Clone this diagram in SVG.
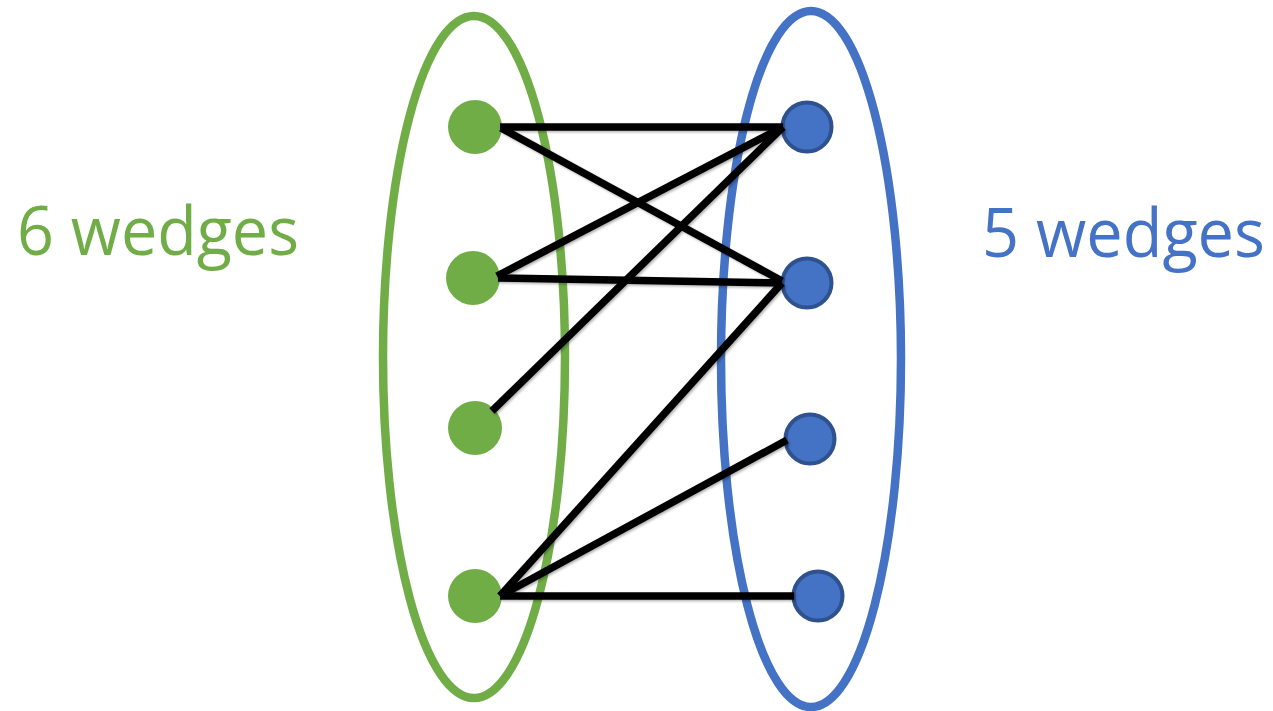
<svg xmlns="http://www.w3.org/2000/svg" width="1273" height="711" viewBox="0 0 1273 711">
  <defs>
    <style>
      .set { fill: none; stroke-width: 8.5; }
      .gset { stroke: #70AD47; }
      .bset { stroke: #4472C4; }
      .gnode { fill: #70AD47; }
      .bnode { fill: #4472C4; stroke: #2F528F; stroke-width: 4; }
      .edge { stroke: #000000; stroke-width: 7.5; stroke-linecap: butt; }
      .label { font-family: "Open Sans", "Liberation Sans", sans-serif; font-size: 67px; }
    </style>
    <filter id="shadow" x="-10%" y="-10%" width="120%" height="120%">
      <feDropShadow dx="1.5" dy="1.5" stdDeviation="1.2" flood-color="#000000" flood-opacity="0.3"/>
    </filter>
  </defs>
  <rect width="1273" height="711" fill="#FFFFFF"/>

  <g id="set-left"><ellipse class="set gset" cx="474" cy="357" rx="91" ry="341"/></g>
  <g id="set-right"><ellipse class="set bset" cx="811" cy="359" rx="90" ry="348"/></g>

  <g id="label-left"><text class="label" x="17" y="255" fill="#70AD47" textLength="282" lengthAdjust="spacingAndGlyphs">6 wedges</text></g>
  <g id="label-right"><text class="label" x="982" y="257" fill="#4472C4" textLength="283" lengthAdjust="spacingAndGlyphs">5 wedges</text></g>

  <g id="g1"><circle class="gnode" cx="475" cy="127" r="27"/></g>
  <g id="g2"><circle class="gnode" cx="473" cy="278" r="27"/></g>
  <g id="g3"><circle class="gnode" cx="475" cy="428" r="27"/></g>
  <g id="g4"><circle class="gnode" cx="475" cy="596" r="27"/></g>

  <g id="b1"><circle class="bnode" cx="807" cy="127" r="24.5"/></g>
  <g id="b2"><circle class="bnode" cx="807" cy="283" r="24.5"/></g>
  <g id="b3"><circle class="bnode" cx="810" cy="439" r="24.5"/></g>
  <g id="b4"><circle class="bnode" cx="818" cy="596" r="24.5"/></g>

  <g id="connectors" filter="url(#shadow)">
    <line class="edge" x1="500" y1="127" x2="783" y2="127"/>
    <line class="edge" x1="501" y1="128" x2="782" y2="281"/>
    <line class="edge" x1="497" y1="276" x2="783" y2="127"/>
    <line class="edge" x1="498" y1="278" x2="782" y2="283"/>
    <line class="edge" x1="492" y1="411" x2="783" y2="127"/>
    <line class="edge" x1="500" y1="596" x2="782" y2="283"/>
    <line class="edge" x1="500" y1="596" x2="787" y2="440"/>
    <line class="edge" x1="500" y1="596" x2="794" y2="596"/>
  </g>
</svg>
